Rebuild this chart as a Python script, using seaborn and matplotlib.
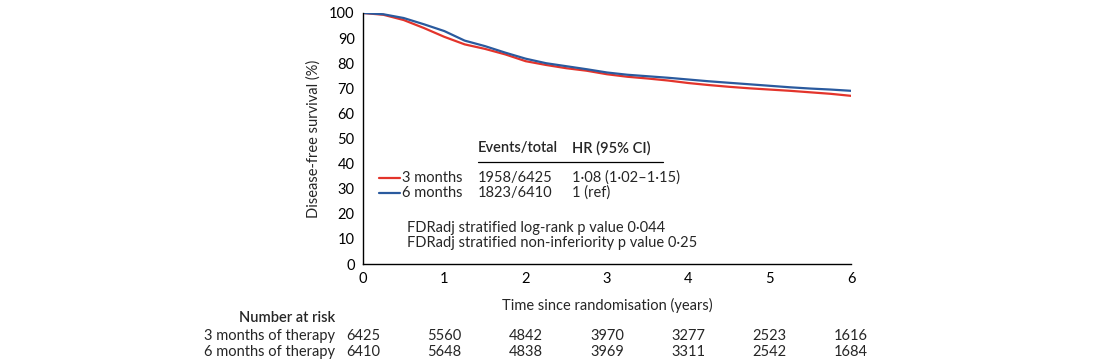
import matplotlib
matplotlib.use("Agg")
import matplotlib.pyplot as plt
import seaborn as sns
import pandas as pd

# ---- data ----
time_years = [0, 0.25, 0.5, 0.75, 1.0, 1.25, 1.5, 1.75, 2.0, 2.25, 2.5, 2.75, 3.0,
              3.25, 3.5, 3.75, 4.0, 4.25, 4.5, 4.75, 5.0, 5.25, 5.5, 5.75, 6.0]
surv_3m = [100, 99.3, 97.2, 94.0, 90.5, 87.5, 85.7, 83.5, 80.8, 79.3, 78.0, 77.0, 75.6,
           74.6, 73.9, 73.1, 72.1, 71.3, 70.6, 70.0, 69.5, 69.0, 68.4, 67.8, 67.0]
surv_6m = [100, 99.5, 98.0, 95.5, 92.8, 89.0, 86.8, 84.2, 81.8, 80.0, 78.8, 77.6, 76.3,
           75.4, 74.8, 74.2, 73.5, 72.8, 72.2, 71.6, 71.0, 70.4, 69.9, 69.5, 69.0]
groups = ["3 months", "6 months"]
events = ["1958/6425", "1823/6410"]
hrs = ["1·08 (1·02–1·15)", "1 (ref)"]
risk_times = [0, 1, 2, 3, 4, 5, 6]
risk_labels = ["3 months of therapy", "6 months of therapy"]
risk_3m = [6425, 5560, 4842, 3970, 3277, 2523, 1616]
risk_6m = [6410, 5648, 4838, 3969, 3311, 2542, 1684]
p_texts = ["FDRadj stratified log-rank p value 0·044",
           "FDRadj stratified non-inferiority p value 0·25"]

colors = {"3 months": "#e3342b", "6 months": "#2a5a9e"}

df = pd.DataFrame({
    "t": time_years + time_years,
    "s": surv_3m + surv_6m,
    "g": [groups[0]] * len(time_years) + [groups[1]] * len(time_years),
})

sns.set_style("white")
plt.rcParams["font.family"] = ["Lato", "DejaVu Sans"]
fs = 10.5

fig = plt.figure(figsize=(11, 3.61), dpi=100)
ax = fig.add_axes([0.33, 1 - 264 / 361, (851 - 363) / 1100, (264 - 13) / 361])

sns.lineplot(data=df, x="t", y="s", hue="g", palette=colors, ax=ax,
             linewidth=1.6, legend=False)

ax.set_xlim(0, 6)
ax.set_ylim(0, 100)
ax.set_xticks(range(0, 7))
ax.set_yticks(range(0, 101, 10))
for s in ["top", "right"]:
    ax.spines[s].set_visible(False)
for s in ["left", "bottom"]:
    ax.spines[s].set_color("black")
    ax.spines[s].set_linewidth(1.0)
ax.tick_params(axis="both", direction="out", length=5, width=1, colors="black",
               labelsize=fs, pad=1)
ax.set_ylabel("Disease-free survival (%)", fontsize=fs, labelpad=6)
ax.set_xlabel("Time since randomisation (years)", fontsize=fs, labelpad=8)
ax.grid(False)

# table inside plot
col1, col2 = 1.414, 2.57
ax.text(col1, 46.2, "Events/total", fontsize=fs, fontweight="semibold", va="center")
ax.text(col2, 46.2, "HR (95% CI)", fontsize=fs, fontweight="semibold", va="center")
ax.plot([col1, 3.69], [40.6, 40.6], color="black", lw=0.9)
rows_y = [34.3, 28.3]
for g, ev, hr, y in zip(groups, events, hrs, rows_y):
    ax.plot([0.197, 0.455], [y, y], color=colors[g], lw=1.6)
    ax.text(0.48, y, g, fontsize=fs, va="center")
    ax.text(col1, y, ev, fontsize=fs, va="center")
    ax.text(col2, y, hr, fontsize=fs, va="center")
for txt, y in zip(p_texts, [14.3, 8.4]):
    ax.text(0.54, y, txt, fontsize=fs, va="center")

# number at risk
def fy(py):
    return 1 - py / 361

fig.text(335 / 1100, fy(318), "Number at risk", fontsize=fs, fontweight="semibold",
         ha="right", va="center")
for lab, vals, py in zip(risk_labels, [risk_3m, risk_6m], [336, 352]):
    fig.text(335 / 1100, fy(py), lab, fontsize=fs, ha="right", va="center")
    for t, v in zip(risk_times, vals):
        xfig = (363 + t * (851 - 363) / 6) / 1100
        fig.text(xfig, fy(py), str(v), fontsize=fs, ha="center", va="center")

fig.savefig("out.png", dpi=100, facecolor="white")
